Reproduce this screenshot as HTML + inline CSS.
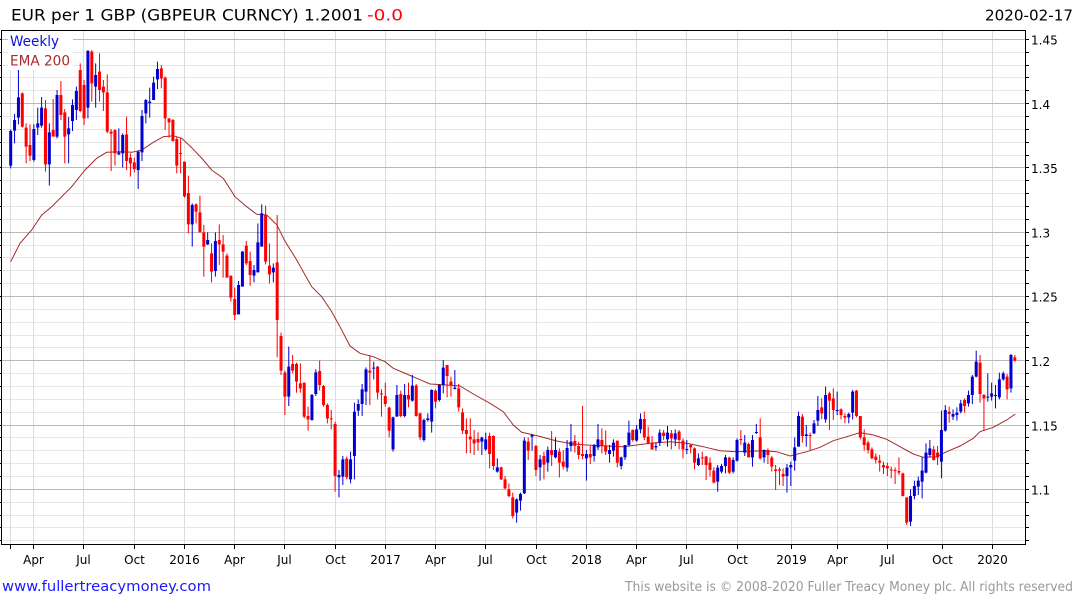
<!DOCTYPE html>
<html><head><meta charset="utf-8"><style>
html,body{margin:0;padding:0;background:#fff;width:1075px;height:600px;overflow:hidden}
svg{display:block}
text{font-family:"DejaVu Sans","Liberation Sans",sans-serif}
</style></head><body>
<svg width="1075" height="600" viewBox="0 0 1075 600" xmlns="http://www.w3.org/2000/svg">
<rect width="1075" height="600" fill="#fff"/>
<!-- minor horizontal grid -->
<path fill="none" stroke="#e6e6e6" stroke-width="1" d="M2 52.5H1025M2 65.5H1025M2 77.5H1025M2 90.5H1025M2 116.5H1025M2 129.5H1025M2 142.5H1025M2 155.5H1025M2 180.5H1025M2 193.5H1025M2 206.5H1025M2 219.5H1025M2 245.5H1025M2 257.5H1025M2 270.5H1025M2 283.5H1025M2 309.5H1025M2 322.5H1025M2 335.5H1025M2 347.5H1025M2 373.5H1025M2 386.5H1025M2 399.5H1025M2 412.5H1025M2 437.5H1025M2 450.5H1025M2 463.5H1025M2 476.5H1025M2 502.5H1025M2 515.5H1025M2 527.5H1025M2 540.5H1025"/>
<!-- vertical grid -->
<path fill="none" stroke="#dcdcdc" stroke-width="1" d="M10.5 31V544M33.5 31V544M83.5 31V544M134.5 31V544M184.5 31V544M234.5 31V544M284.5 31V544M335.5 31V544M385.5 31V544M435.5 31V544M485.5 31V544M536.5 31V544M586.5 31V544M636.5 31V544M686.5 31V544M737.5 31V544M791.5 31V544M837.5 31V544M887.5 31V544M942.5 31V544M992.5 31V544"/>
<!-- major horizontal grid -->
<path fill="none" stroke="#b9b9b9" stroke-width="1" d="M2 39.5H1025M2 103.5H1025M2 167.5H1025M2 232.5H1025M2 296.5H1025M2 360.5H1025M2 425.5H1025M2 489.5H1025"/>
<!-- legend background -->
<rect x="8" y="32" width="65" height="38" fill="#fff"/>
<text x="10" y="46" font-size="14" fill="#1010e0" textLength="49" lengthAdjust="spacingAndGlyphs">Weekly</text>
<text x="10" y="65.5" font-size="14" fill="#a52a2a" textLength="60" lengthAdjust="spacingAndGlyphs">EMA 200</text>

<!-- EMA 200 -->
<polyline fill="none" stroke="#a52a2a" stroke-width="1" points="10.7,261.7 20,243.3 31.7,230 41.7,215 51.7,206.7 61.7,196.7 71.7,186.7 85,170 96.7,158.3 106.7,152.3 120,151.7 131.7,152.3 141.7,150 153.3,142.3 163.3,136.7 173.3,135.7 181.7,138.3 191.7,147.7 203.3,160 211.7,170 223.3,178.3 235,196.7 246.7,206.7 256.7,214.3 266.7,215 277,225 284.3,240 296.7,260 311.7,286.7 321.7,296.7 331.7,311.7 340,326.7 350,346 360,353.3 373.3,356.7 385,361.7 393.3,368.3 406.7,374 416.7,378.3 430,384 446.7,385 460,386 473.3,394 490,403.3 503.3,411.7 513.3,425 521.7,432.3 538.3,436 556.7,441 573.3,444 586.7,445 606.7,446 623.3,446.7 636.7,445 650,443.3 670,441.7 686.7,443.3 703.3,446.7 720,450.7 736.7,451.7 763.3,450.7 776.7,451.7 790,456 806.7,451.7 820,447.3 833.3,440.7 846.7,436.7 860,432.7 873.3,435 886.7,439.3 900,446.7 913.3,454 923.3,457.3 936.7,456.7 946.7,451.7 960,446 973.3,438.3 980,431.7 993.3,427.3 1006.7,420 1015.3,414"/>

<!-- Segment 1 (candles 1-70) -->
<g transform="translate(0,35) scale(0.333333)" fill="none">
<path stroke="#0000d0" stroke-width="3" d="M32.1 284V400M43.7 237V325M55.3 105V268M101.6 268V380M113.2 218V300M124.8 186V278M148 265V452M171.1 165V310M205.9 246V385M217.5 193V288M229.1 155V255M263.8 45V250M287 85V218M356.5 280V360M368.1 295V398M414.5 348V462M426 225V378M437.6 192V265M449.2 158V248M460.8 125V195M472.4 80V162M576.7 505V635M623 592V630M646.2 592V725M715.7 738V838M727.3 648V755M762 690V742M773.6 565V712M785.2 508V635M820 685V742"/>
<path stroke="#0000d0" stroke-width="9" d="M32.1 288V392M43.7 255V287M55.3 187V248M101.6 282V375M113.2 265V278M124.8 218V272M148 292V388M171.1 180V305M205.9 280V298M217.5 210V258M229.1 168V225M263.8 48V218M287 120V155M356.5 353V358M368.1 300V355M414.5 350V405M426 243V352M437.6 195V235M449.2 200V204M460.8 143V195M472.4 102V133M576.7 510V568M623 615V628M646.2 618V708M715.7 750V838M727.3 650V755M762 705V722M773.6 622V712M785.2 535V635M820 698V712"/>
<path stroke="#ff0000" stroke-width="3" d="M66.9 172V278M78.4 265V385M90 268V378M136.4 195V410M159.5 192V305M182.7 138V255M194.3 222V385M240.7 85V232M252.2 135V270M275.4 45V200M298.6 55V200M310.2 135V228M321.8 118V295M333.3 282V408M344.9 283V392M379.7 245V405M391.3 355V425M402.9 368V412M484 90V160M495.5 125V285M507.1 250V308M518.7 252V320M530.3 305V415M541.9 310V415M553.5 380V488M565.1 422V595M588.2 505V565M599.8 482V592M611.4 570V725M634.6 625V742M657.8 568V690M669.3 600V728M680.9 655V728M692.5 722V800M704.1 758V855M738.9 618V690M750.4 650V752M796.8 512V688M808.4 625V745M831.5 540V967"/>
<path stroke="#ff0000" stroke-width="9" d="M66.9 175V275M78.4 278V335M90 330V362M136.4 220V388M159.5 285V305M182.7 180V240M194.3 232V305M240.7 105V228M252.2 150V250M275.4 50V145M298.6 110V165M310.2 155V172M321.8 172V290M333.3 290V296M344.9 285V355M379.7 298V378M391.3 368V385M402.9 382V402M484 100V130M495.5 128V250M507.1 250V262M518.7 255V318M530.3 312V392M541.9 354V357M553.5 380V484M565.1 474V568M588.2 508V530M599.8 532V592M611.4 592V635M634.6 655V710M657.8 615V628M669.3 628V650M680.9 662V728M692.5 722V788M704.1 792V840M738.9 632V685M750.4 678V720M796.8 540V680M808.4 692V718M831.5 682V855"/>
</g>

<!-- Segment 2 (candles 71-137) -->
<g transform="translate(260,240) scale(0.333333)" fill="none">
<path stroke="#0000d0" stroke-width="3" d="M86.3 320V498M155.8 462V542M167.4 388V468M236.9 690V772M248.5 648V735M271.7 635V730M283.3 488V718M294.8 478V528M306.4 432V528M318 382V495M341.2 365V418M399.1 530V635M410.7 435V530M433.9 432V532M457 405V485M491.8 536V605M503.4 520V545M515 448V578M538.1 432V485M549.7 360V460M584.5 390V448M665.6 590V645M677.2 578V632M711.9 655V698M769.9 775V848M781.4 758V812M793 592V762M816.2 582V632"/>
<path stroke="#0000d0" stroke-width="9" d="M86.3 380V470M155.8 465V540M167.4 397V462M236.9 705V712M248.5 658V710M271.7 658V718M283.3 515V648M294.8 492V512M306.4 448V492M318 388V455M341.2 383V386M399.1 532V628M410.7 465V530M433.9 465V528M457 437V482M491.8 540V600M503.4 535V540M515 450V545M538.1 435V480M549.7 383V435M584.5 443V447M665.6 593V605M677.2 598V628M711.9 682V695M769.9 778V818M781.4 762V782M793 602V760M816.2 585V590"/>
<path stroke="#ff0000" stroke-width="3" d="M63.1 278V405M74.7 392V525M97.9 345V400M109.5 368V458M121.1 370V458M132.6 428V535M144.2 500V572M179 362V452M190.6 435V500M202.2 490V550M213.7 510V568M225.3 545V755M260.1 650V718M329.6 345V495M352.8 378V478M364.4 448V530M375.9 428V500M387.5 500V592M422.3 452V532M445.5 428V502M468.6 432V530M480.2 518V600M526.6 448V505M561.3 375V472M572.9 410V470M596.1 432V515M607.7 505V582M619.2 535V640M630.8 535V640M642.4 570V645M654 577V632M688.8 578V685M700.3 586V690M723.5 680V720M735.1 708V748M746.7 730V772M758.3 758V835M804.6 592V660M827.8 615V708"/>
<path stroke="#ff0000" stroke-width="9" d="M63.1 288V392M74.7 398V470M97.9 372V392M109.5 372V425M121.1 430V445M132.6 428V530M144.2 528V538M179 393V435M190.6 438V495M202.2 495V535M213.7 535V538M225.3 552V708M260.1 656V712M329.6 392V398M352.8 380V458M364.4 460V463M375.9 468V492M387.5 503V572M422.3 462V528M445.5 465V478M468.6 437V528M480.2 520V592M526.6 452V485M561.3 375V408M572.9 425V435M596.1 445V502M607.7 517V572M619.2 570V582M630.8 590V598M642.4 598V610M654 597V607M688.8 588V642M700.3 588V678M723.5 682V718M735.1 718V745M746.7 748V768M758.3 772V828M804.6 605V632M827.8 618V690"/>
</g>

<!-- Segment 3 (candles 138-200) -->
<g transform="translate(530,370) scale(0.333333)" fill="none">
<path stroke="#0000d0" stroke-width="3" d="M30.2 255V332M53.4 230V305M76.5 202V265M111.3 210V305M122.9 162V245M169.2 240V332M192.4 222V275M204 162V240M238.7 225V278M250.3 208V260M273.5 260V298M285.1 225V270M296.7 152V230M319.8 165V215M331.4 130V190M377.8 218V242M389.3 178V228M412.5 168V230M435.7 178V228M470.4 210V252M505.2 250V288M563.1 285V365M574.7 282V310M586.3 255V310M609.5 262V310M621.1 205V275M644.2 195V258M667.4 195V290M679 162V192M702.2 238V278"/>
<path stroke="#0000d0" stroke-width="9" d="M30.2 268V292M53.4 240V278M76.5 240V262M111.3 234V293M122.9 215V228M169.2 252V265M192.4 225V258M204 208V232M238.7 240V252M250.3 218V242M273.5 262V288M285.1 225V262M296.7 188V225M319.8 178V212M331.4 147V178M377.8 228V232M389.3 188V218M412.5 188V208M435.7 190V208M470.4 237V240M505.2 265V285M563.1 293V335M574.7 288V305M586.3 262V288M609.5 270V305M621.1 210V272M644.2 218V248M667.4 210V262M679 186V189M702.2 240V262"/>
<path stroke="#ff0000" stroke-width="3" d="M41.8 245V328M64.9 183V288M88.1 235V322M99.7 240V298M134.5 195V248M146 215V268M157.6 108V268M180.8 228V282M215.6 175V250M227.1 182V255M261.9 212V292M308.2 178V215M343 125V210M354.6 170V222M366.2 198V240M400.9 180V210M424.1 180V238M447.3 180V238M458.9 205V265M482 222V250M493.6 232V298M516.8 245V285M528.4 258V330M540 262V320M551.5 292V340M597.9 260V312M632.6 180V225M655.8 218V262M690.6 145V268M713.7 235V282M725.3 258V305M736.9 285V360M748.5 292V345"/>
<path stroke="#ff0000" stroke-width="9" d="M41.8 258V284M64.9 240V255M88.1 245V278M99.7 275V290M134.5 213V228M146 228V255M157.6 252V258M180.8 252V262M215.6 210V228M227.1 226V245M261.9 212V278M308.2 180V210M343 147V202M354.6 200V220M366.2 220V238M400.9 188V198M424.1 190V205M447.3 185V210M458.9 212V238M482 225V232M493.6 235V278M516.8 262V265M528.4 260V285M540 278V300M551.5 302V338M597.9 263V308M632.6 207V210M655.8 222V262M690.6 202V265M713.7 240V255M725.3 263V290M736.9 298V303M748.5 298V302"/>
</g>

<!-- Segment 4 (candles 201-261) -->
<g transform="translate(780,340) scale(0.333333)" fill="none">
<path stroke="#0000d0" stroke-width="3" d="M20.9 372V458M32.5 365V438M44.1 292V392M55.7 215V320M78.8 255V320M102 240V282M113.6 168V258M136.8 140V248M171.5 155V225M206.3 218V250M217.9 150V238M391.6 448V558M403.2 422V478M414.8 410V465M426.4 352V475M438 310V400M449.6 300V352M484.3 212V415M495.9 195V275M519.1 208V240M530.7 202V242M542.3 180V220M565.4 152V200M577 105V192M588.6 32V112M623.4 100V185M634.9 128V182M646.5 135V205M658.1 98V178M669.7 95V122M692.9 42V158"/>
<path stroke="#0000d0" stroke-width="9" d="M20.9 383V408M32.5 375V382M44.1 322V362M55.7 228V320M78.8 283V288M102 250V280M113.6 210V242M136.8 165V238M171.5 210V213M206.3 222V232M217.9 155V218M391.6 468V545M403.2 438V468M414.8 422V440M426.4 392V425M438 338V398M449.6 325V345M484.3 270V365M495.9 210V272M519.1 222V230M530.7 218V225M542.3 190V215M565.4 165V190M577 110V165M588.6 65V110M623.4 170V173M634.9 160V170M646.5 165V168M658.1 118V172M669.7 100V118M692.9 45V145"/>
<path stroke="#ff0000" stroke-width="3" d="M9.3 385V438M67.2 222V308M90.4 278V330M125.2 175V238M148.3 155V270M159.9 145V240M183.1 205V238M194.7 220V250M229.4 150V232M241 228V298M252.6 268V332M264.2 302V340M275.8 322V358M287.4 340V370M299 345V395M310.5 365V402M322.1 368V408M333.7 380V415M345.3 382V432M356.9 352V405M368.5 398V470M380.1 472V555M461.2 318V362M472.7 318V375M507.5 200V248M553.8 175V218M600.2 45V188M611.8 162V272M681.3 102V178M704.5 45V65"/>
<path stroke="#ff0000" stroke-width="9" d="M9.3 402V410M67.2 230V288M90.4 285V288M125.2 202V220M148.3 160V182M159.9 175V210M183.1 208V225M194.7 228V233M229.4 152V228M241 228V292M252.6 292V315M264.2 308V330M275.8 328V355M287.4 350V360M299 362V368M310.5 375V382M322.1 378V385M333.7 388V391M345.3 390V393M356.9 393V398M368.5 400V468M380.1 472V548M461.2 328V360M472.7 338V352M507.5 215V222M553.8 180V198M600.2 68V162M611.8 165V175M681.3 110V148M704.5 52V62"/>
</g>

<!-- frame -->
<rect x="1.5" y="30.5" width="1024" height="514" fill="none" stroke="#000" stroke-width="1"/>
<!-- right ticks -->
<path fill="none" stroke="#000" stroke-width="1" d="M1026 39.5h3M1026 52.5h3M1026 65.5h3M1026 77.5h3M1026 90.5h3M1026 103.5h3M1026 116.5h3M1026 129.5h3M1026 142.5h3M1026 155.5h3M1026 167.5h3M1026 180.5h3M1026 193.5h3M1026 206.5h3M1026 219.5h3M1026 232.5h3M1026 245.5h3M1026 257.5h3M1026 270.5h3M1026 283.5h3M1026 296.5h3M1026 309.5h3M1026 322.5h3M1026 335.5h3M1026 347.5h3M1026 360.5h3M1026 373.5h3M1026 386.5h3M1026 399.5h3M1026 412.5h3M1026 425.5h3M1026 437.5h3M1026 450.5h3M1026 463.5h3M1026 476.5h3M1026 489.5h3M1026 502.5h3M1026 515.5h3M1026 527.5h3M1026 540.5h3"/>
<!-- left ticks -->
<path fill="none" stroke="#000" stroke-width="1" d="M0 39.5h2M0 52.5h2M0 65.5h2M0 77.5h2M0 90.5h2M0 103.5h2M0 116.5h2M0 129.5h2M0 142.5h2M0 155.5h2M0 167.5h2M0 180.5h2M0 193.5h2M0 206.5h2M0 219.5h2M0 232.5h2M0 245.5h2M0 257.5h2M0 270.5h2M0 283.5h2M0 296.5h2M0 309.5h2M0 322.5h2M0 335.5h2M0 347.5h2M0 360.5h2M0 373.5h2M0 386.5h2M0 399.5h2M0 412.5h2M0 425.5h2M0 437.5h2M0 450.5h2M0 463.5h2M0 476.5h2M0 489.5h2M0 502.5h2M0 515.5h2M0 527.5h2M0 540.5h2"/>
<!-- bottom ticks -->
<path fill="none" stroke="#000" stroke-width="1" d="M10.5 545V549M33.5 545V549M83.5 545V549M134.5 545V549M184.5 545V549M234.5 545V549M284.5 545V549M335.5 545V549M385.5 545V549M435.5 545V549M485.5 545V549M536.5 545V549M586.5 545V549M636.5 545V549M686.5 545V549M737.5 545V549M791.5 545V549M837.5 545V549M887.5 545V549M942.5 545V549M992.5 545V549"/>

<!-- y labels -->
<g font-size="12" fill="#000">
<text x="1031" y="44.6">1.45</text>
<text x="1031" y="108.9">1.4</text>
<text x="1031" y="173.2">1.35</text>
<text x="1031" y="237.5">1.3</text>
<text x="1031" y="301.7">1.25</text>
<text x="1031" y="366">1.2</text>
<text x="1031" y="430.3">1.15</text>
<text x="1031" y="494.6">1.1</text>
</g>
<!-- x labels -->
<g font-size="12" fill="#000" text-anchor="middle">
<text x="33.5" y="564">Apr</text>
<text x="83.5" y="564">Jul</text>
<text x="134.5" y="564">Oct</text>
<text x="184.5" y="564">2016</text>
<text x="234.5" y="564">Apr</text>
<text x="284.5" y="564">Jul</text>
<text x="335.5" y="564">Oct</text>
<text x="385.5" y="564">2017</text>
<text x="435.5" y="564">Apr</text>
<text x="485.5" y="564">Jul</text>
<text x="536.5" y="564">Oct</text>
<text x="586.5" y="564">2018</text>
<text x="636.5" y="564">Apr</text>
<text x="686.5" y="564">Jul</text>
<text x="737.5" y="564">Oct</text>
<text x="791.5" y="564">2019</text>
<text x="837.5" y="564">Apr</text>
<text x="887.5" y="564">Jul</text>
<text x="942.5" y="564">Oct</text>
<text x="992.5" y="564">2020</text>
</g>

<!-- title -->
<text x="11" y="20.5" font-size="16" fill="#000" textLength="352" lengthAdjust="spacingAndGlyphs">EUR per 1 GBP (GBPEUR CURNCY) 1.2001</text>
<text x="367" y="20.5" font-size="16" fill="#ff0000" textLength="36" lengthAdjust="spacingAndGlyphs">-0.0</text>
<text x="985" y="20.5" font-size="15" fill="#000" textLength="88" lengthAdjust="spacingAndGlyphs">2020-02-17</text>

<!-- footer -->
<text x="2" y="591" font-size="14.5" fill="#1a1aff" textLength="209" lengthAdjust="spacingAndGlyphs">www.fullertreacymoney.com</text>
<text x="625" y="591" font-size="13" fill="#999" textLength="448" lengthAdjust="spacingAndGlyphs">This website is © 2008-2020 Fuller Treacy Money plc. All rights reserved</text>
</svg>
</body></html>
